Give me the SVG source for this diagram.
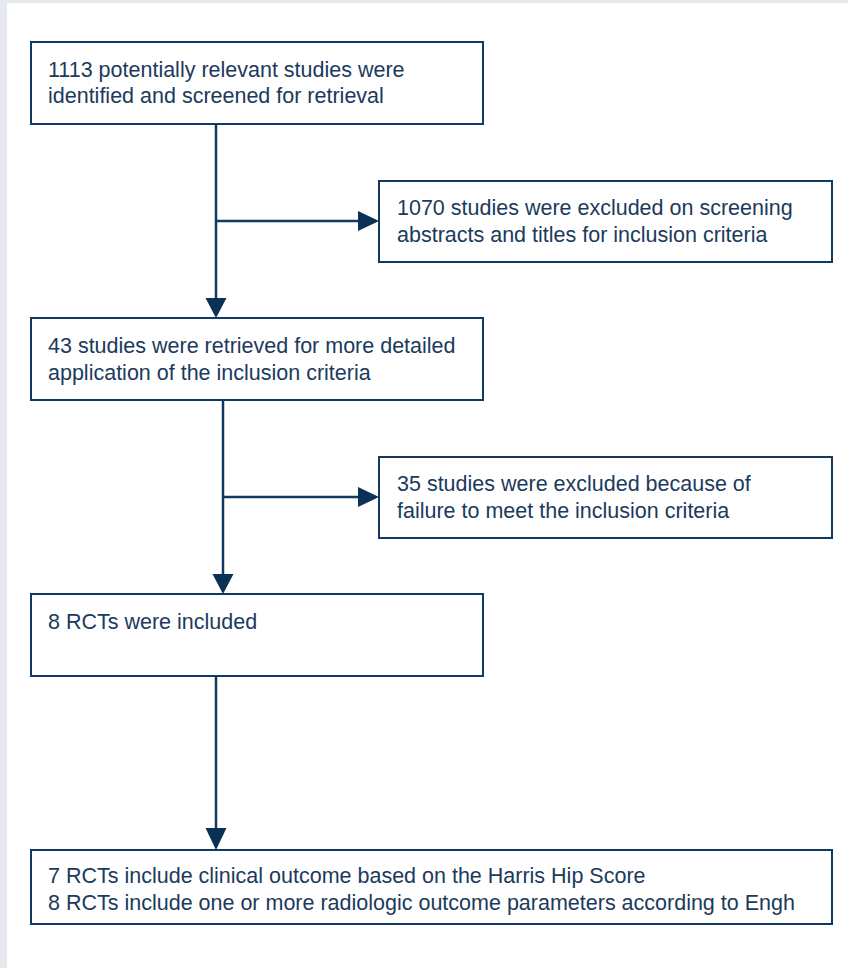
<svg xmlns="http://www.w3.org/2000/svg" width="848" height="968" viewBox="0 0 848 968">
<defs>
<style>
.box{fill:#ffffff;stroke:#123a60;stroke-width:2}
.lbl{font-family:"Liberation Sans",Arial,Helvetica,sans-serif;font-size:21.5px;fill:#1b3a5c}
.con{stroke:#123a60;stroke-width:2.5;fill:none}
.head{fill:#0b3157}
</style>
</defs>
<rect x="0" y="0" width="848" height="968" fill="#e6e9ef"/>
<rect x="7" y="3" width="841" height="965" fill="#ffffff"/>
<g id="connectors">
<line class="con" x1="216" y1="124" x2="216" y2="300"/>
<polygon class="head" points="205.5,298 226.5,298 216,318"/>
<line class="con" x1="216" y1="221" x2="360" y2="221"/>
<polygon class="head" points="358,211 358,231 379,221"/>
<line class="con" x1="223" y1="400" x2="223" y2="576"/>
<polygon class="head" points="212.5,574 233.5,574 223,594"/>
<line class="con" x1="223" y1="497" x2="360" y2="497"/>
<polygon class="head" points="358,487 358,507 379,497"/>
<line class="con" x1="216" y1="676" x2="216" y2="832"/>
<polygon class="head" points="205.5,828 226.5,828 216,850"/>
</g>
<g id="n1">
<rect class="box" x="31" y="42" width="452" height="82"/>
<text class="lbl" x="48" y="77">1113 potentially relevant studies were</text>
<text class="lbl" x="48" y="103">identified and screened for retrieval</text>
</g>
<g id="n2">
<rect class="box" x="379" y="181" width="453" height="81"/>
<text class="lbl" x="397" y="215">1070 studies were excluded on screening</text>
<text class="lbl" x="397" y="242">abstracts and titles for inclusion criteria</text>
</g>
<g id="n3">
<rect class="box" x="31" y="318" width="452" height="82"/>
<text class="lbl" x="48" y="353">43 studies were retrieved for more detailed</text>
<text class="lbl" x="48" y="380">application of the inclusion criteria</text>
</g>
<g id="n4">
<rect class="box" x="379" y="457" width="453" height="81"/>
<text class="lbl" x="397" y="491">35 studies were excluded because of</text>
<text class="lbl" x="397" y="518">failure to meet the inclusion criteria</text>
</g>
<g id="n5">
<rect class="box" x="31" y="594" width="452" height="82"/>
<text class="lbl" x="48" y="629">8 RCTs were included</text>
</g>
<g id="n6">
<rect class="box" x="31" y="850" width="801" height="74"/>
<text class="lbl" x="48" y="883">7 RCTs include clinical outcome based on the Harris Hip Score</text>
<text class="lbl" x="48" y="910">8 RCTs include one or more radiologic outcome parameters according to Engh</text>
</g>
</svg>
